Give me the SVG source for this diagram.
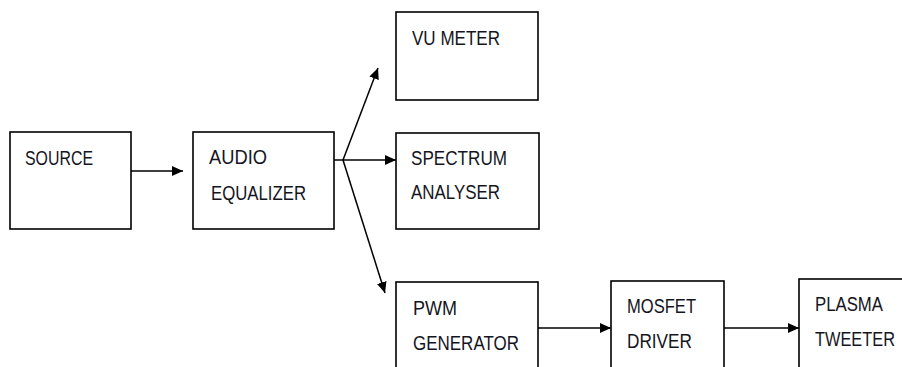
<svg xmlns="http://www.w3.org/2000/svg" width="902" height="367" viewBox="0 0 902 367">
<style>
.box{fill:#fff;stroke:#000;stroke-width:1.6}
.lbl{font-family:"Liberation Sans",Arial,sans-serif;font-size:20.5px;fill:#151522}
.con{stroke:#000;stroke-width:1.5;fill:none;marker-end:url(#ah)}
</style>
<defs>
<marker id="ah" markerUnits="userSpaceOnUse" markerWidth="11" markerHeight="10" refX="11" refY="5" orient="auto" viewBox="0 0 11 10">
<path d="M0,0 L11,5 L0,10 z" fill="#000"/>
</marker>
</defs>
<rect width="902" height="367" fill="#fff"/>
<g id="source">
<rect class="box" x="10" y="132" width="121" height="97"/>
<text class="lbl" x="25" y="165" textLength="68" lengthAdjust="spacingAndGlyphs">SOURCE</text>
</g>
<g id="equalizer">
<rect class="box" x="193" y="132" width="141" height="97"/>
<text class="lbl" x="209" y="164" textLength="58" lengthAdjust="spacingAndGlyphs">AUDIO</text>
<text class="lbl" x="211" y="200" textLength="95" lengthAdjust="spacingAndGlyphs">EQUALIZER</text>
</g>
<g id="vumeter">
<rect class="box" x="396" y="12" width="142" height="88"/>
<text class="lbl" x="412" y="45" textLength="88" lengthAdjust="spacingAndGlyphs">VU METER</text>
</g>
<g id="spectrum">
<rect class="box" x="396" y="133" width="143" height="96"/>
<text class="lbl" x="411" y="165" textLength="96" lengthAdjust="spacingAndGlyphs">SPECTRUM</text>
<text class="lbl" x="411" y="199" textLength="89" lengthAdjust="spacingAndGlyphs">ANALYSER</text>
</g>
<g id="pwm">
<rect class="box" x="396" y="282" width="142" height="100"/>
<text class="lbl" x="413" y="315" textLength="44" lengthAdjust="spacingAndGlyphs">PWM</text>
<text class="lbl" x="413" y="350" textLength="106" lengthAdjust="spacingAndGlyphs">GENERATOR</text>
</g>
<g id="mosfet">
<rect class="box" x="611" y="281" width="113" height="100"/>
<text class="lbl" x="627" y="313" textLength="69" lengthAdjust="spacingAndGlyphs">MOSFET</text>
<text class="lbl" x="627" y="348" textLength="65" lengthAdjust="spacingAndGlyphs">DRIVER</text>
</g>
<g id="plasma">
<rect class="box" x="799" y="279" width="105" height="100"/>
<text class="lbl" x="815" y="311" textLength="68" lengthAdjust="spacingAndGlyphs">PLASMA</text>
<text class="lbl" x="815" y="346" textLength="80" lengthAdjust="spacingAndGlyphs">TWEETER</text>
</g>
<g id="connectors">
<line class="con" x1="131" y1="171" x2="183" y2="171"/>
<line class="con" x1="343" y1="160" x2="378" y2="68"/>
<line class="con" x1="343" y1="160" x2="396" y2="160"/>
<line class="con" x1="343" y1="160" x2="385" y2="293"/>
<line class="con" x1="538" y1="328" x2="611" y2="328"/>
<line class="con" x1="724" y1="328" x2="799" y2="328"/>
<line stroke="#000" stroke-width="1.5" x1="334" y1="160" x2="343" y2="160"/>
</g>
</svg>
